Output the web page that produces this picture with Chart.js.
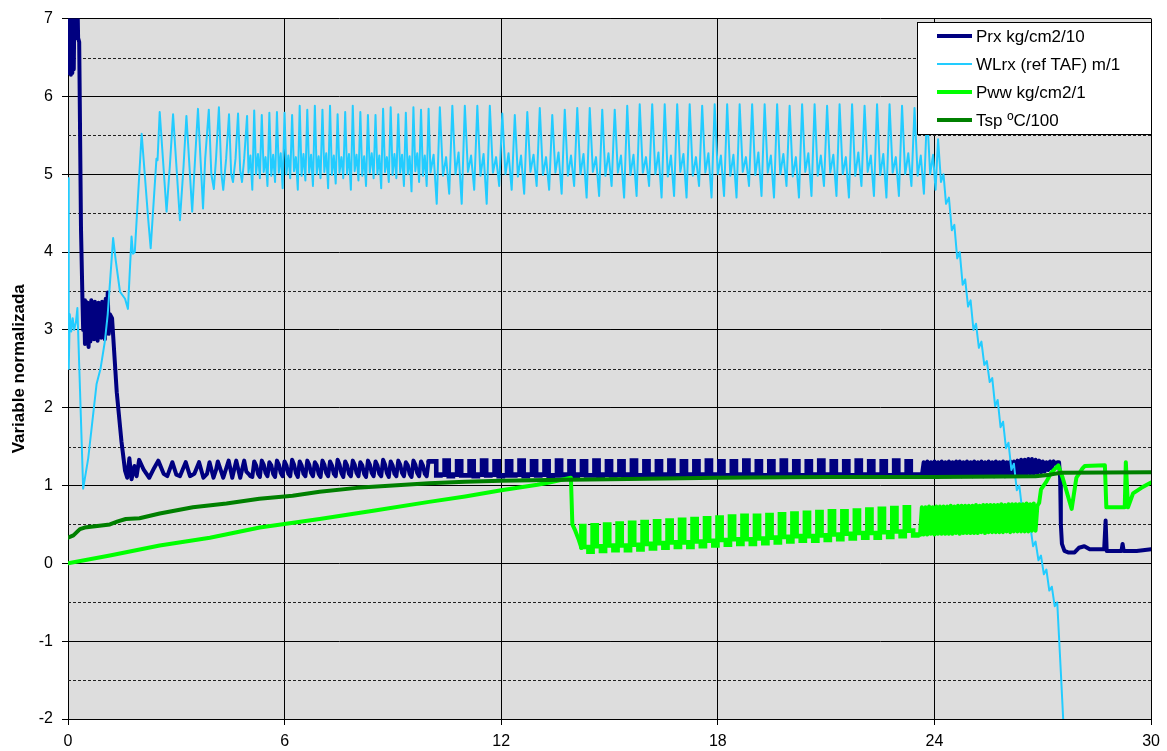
<!DOCTYPE html>
<html>
<head>
<meta charset="utf-8">
<script src="https://cdn.jsdelivr.net/npm/chart.js@4.4.0/dist/chart.umd.min.js"></script>
<style>
  html, body { margin: 0; padding: 0; background: #fff; }
  #wrap { width: 1167px; height: 751px; }
</style>
</head>
<body>
<div id="wrap"><canvas id="chart" width="1167" height="751"></canvas></div>
<script>
// x axis (time) and y axis (normalised value) ticks
const xTicks = [0, 6, 12, 18, 24, 30];
const yTicks = [-2, -1, 0, 1, 2, 3, 4, 5, 6, 7];
const yHalfLines = [-1.5, -0.5, 0.5, 1.5, 2.5, 3.5, 4.5, 5.5, 6.5];

const seriesLabels = ['Prx kg/cm2/10', 'WLrx (ref TAF) m/1', 'Pww kg/cm2/1', 'Tsp ºC/100'];
const seriesColors = ['#000080', '#22CCFF', '#00FF00', '#008000'];
const seriesWidths = [4, 2, 4, 4];

// ---- Prx ----
const prxSpikeX0 = 0, prxSpikeDx = 0.02;
const prxSpikeY = [6.6, 7.3, 6.3, 7.3, 6.28, 7.3, 6.3, 7.3, 6.35, 7.3, 6.75, 7.3, 6.78, 7.3, 6.75];
const prxDropXY = [[0.31, 6.7], [0.36, 4.3], [0.40, 3.4]];
const prxBandX0 = 0.42, prxBandDx = 0.025;
const prxBandY = [3.0, 3.38, 2.82, 3.36, 2.9, 3.35, 2.78, 3.3, 2.85, 3.38, 2.95, 3.33, 2.88, 3.36,
  2.92, 3.3, 2.86, 3.35, 2.95, 3.32, 2.9, 3.36, 2.95, 3.3, 2.88, 3.4, 2.95];
const prxSettleXY = [[1.10, 3.48], [1.13, 2.95], [1.16, 3.2], [1.22, 3.15], [1.35, 2.2], [1.48, 1.57],
  [1.58, 1.19], [1.64, 1.1], [1.7, 1.35], [1.76, 1.08], [1.84, 1.25], [1.9, 1.12], [1.97, 1.33],
  [2.1, 1.2], [2.25, 1.1], [2.38, 1.22], [2.5, 1.32], [2.65, 1.15], [2.75, 1.12], [2.89, 1.3],
  [3.0, 1.14], [3.1, 1.12], [3.26, 1.3], [3.38, 1.12], [3.5, 1.15], [3.63, 1.3], [3.75, 1.1],
  [3.85, 1.15], [3.92, 1.3], [4.03, 1.1], [4.1, 1.2], [4.15, 1.31], [4.3, 1.1], [4.45, 1.32],
  [4.55, 1.1], [4.66, 1.32], [4.77, 1.1], [4.88, 1.32], [4.94, 1.18]];
const midX0 = 5.0, midDx = 0.0525;
const prxMidY = [
  1.15, 1.12, 1.11, 1.31, 1.26, 1.15, 1.11, 1.32, 1.27, 1.16, 1.12, 1.30, 1.26, 1.15, 1.11, 1.32,
  1.27, 1.16, 1.12, 1.31, 1.26, 1.15, 1.12, 1.33, 1.27, 1.16, 1.11, 1.31, 1.26, 1.15, 1.12, 1.32,
  1.27, 1.16, 1.12, 1.30, 1.26, 1.15, 1.11, 1.32, 1.27, 1.16, 1.12, 1.31, 1.26, 1.15, 1.12, 1.33,
  1.27, 1.16, 1.11, 1.31, 1.26, 1.15, 1.12, 1.32, 1.27, 1.16, 1.12, 1.30, 1.26, 1.15, 1.11, 1.32,
  1.27, 1.16, 1.12, 1.31, 1.26, 1.15, 1.12, 1.33, 1.27, 1.16, 1.11, 1.31, 1.26, 1.15, 1.12, 1.32,
  1.27, 1.16, 1.12, 1.30, 1.26, 1.15, 1.11, 1.32, 1.27, 1.16, 1.12, 1.31, 1.26, 1.15, 1.12, 1.31];
// from x=10 the pump cycles are square: held values, three samples per cycle
const prxLateX0 = 10.2, cycleDx = 0.1153;
const prxLateY = [
  1.31, 1.13, 1.14, 1.32, 1.12, 1.14, 1.31, 1.13, 1.13, 1.31, 1.12, 1.14,
  1.32, 1.13, 1.14, 1.31, 1.12, 1.13, 1.31, 1.13, 1.14, 1.32, 1.12, 1.14,
  1.31, 1.13, 1.14, 1.31, 1.12, 1.13, 1.32, 1.13, 1.14, 1.31, 1.12, 1.14,
  1.31, 1.13, 1.13, 1.32, 1.12, 1.14, 1.31, 1.13, 1.14, 1.31, 1.12, 1.14,
  1.32, 1.13, 1.13, 1.31, 1.12, 1.14, 1.31, 1.13, 1.14, 1.32, 1.12, 1.13,
  1.31, 1.13, 1.14, 1.31, 1.12, 1.14, 1.32, 1.13, 1.14, 1.31, 1.12, 1.13,
  1.31, 1.13, 1.14, 1.32, 1.12, 1.14, 1.31, 1.13, 1.13, 1.31, 1.12, 1.14,
  1.32, 1.13, 1.14, 1.31, 1.12, 1.13, 1.31, 1.13, 1.14, 1.32, 1.12, 1.14,
  1.31, 1.13, 1.14, 1.31, 1.12, 1.13, 1.32, 1.13, 1.14, 1.31, 1.12, 1.14,
  1.31, 1.13, 1.13, 1.32, 1.12, 1.14, 1.31, 1.13, 1.14];
const prxDenseX0 = 23.65, denseDx = 0.05;
const prxDenseY = [
  1.13, 1.3, 1.13, 1.31, 1.12, 1.3, 1.13, 1.31, 1.13, 1.3, 1.12, 1.31, 1.13, 1.3, 1.13, 1.31,
  1.12, 1.3, 1.13, 1.31, 1.13, 1.31, 1.12, 1.3, 1.13, 1.31, 1.13, 1.3, 1.12, 1.31, 1.13, 1.3,
  1.13, 1.31, 1.12, 1.3, 1.13, 1.31, 1.13, 1.3, 1.12, 1.31, 1.13, 1.3, 1.13, 1.31, 1.12, 1.3,
  1.13, 1.31, 1.13, 1.31, 1.13, 1.32, 1.14, 1.33, 1.14, 1.33, 1.15, 1.34, 1.15, 1.34, 1.15, 1.33,
  1.16, 1.32, 1.17, 1.31, 1.18, 1.3, 1.2, 1.31, 1.22, 1.31, 1.28, 1.3];
const prxTailXY = [[27.45, 1.3], [27.48, 1.1], [27.5, 0.5], [27.53, 0.25], [27.6, 0.16], [27.7, 0.14],
  [27.88, 0.14], [28.0, 0.2], [28.15, 0.22], [28.3, 0.18], [28.7, 0.18], [28.74, 0.55], [28.77, 0.16],
  [29.18, 0.16], [29.21, 0.25], [29.24, 0.16], [29.6, 0.16], [30, 0.18]];

// ---- WLrx ----
const wlEarlyXY = [[0, 4.95], [0.02, 2.5], [0.05, 3.2], [0.09, 2.98], [0.13, 3.15], [0.17, 3.0],
  [0.22, 3.1], [0.26, 3.28], [0.42, 0.96], [0.56, 1.35], [0.79, 2.3], [0.9, 2.5], [1.02, 2.85],
  [1.1, 3.2], [1.25, 4.18], [1.32, 3.9], [1.44, 3.49], [1.58, 3.4], [1.66, 3.27], [1.76, 4.2],
  [1.8, 3.98], [1.85, 4.0], [2.04, 5.52], [2.22, 4.43], [2.29, 4.05], [2.45, 5.2], [2.48, 5.18],
  [2.54, 5.8], [2.73, 4.52], [2.82, 5.1], [2.91, 5.77], [3.1, 4.41], [3.2, 5.1], [3.28, 5.75],
  [3.44, 4.52], [3.52, 5.2], [3.6, 5.84], [3.74, 4.56], [3.8, 5.2], [3.9, 5.83], [3.97, 5.0],
  [4.04, 4.81], [4.1, 5.2], [4.18, 5.86], [4.25, 5.0], [4.3, 4.8], [4.38, 5.2], [4.46, 5.77],
  [4.52, 5.0], [4.57, 4.9], [4.64, 5.2], [4.71, 5.78], [4.77, 5.05], [4.82, 4.9], [4.88, 5.2],
  [4.96, 5.75]];
const wlMidY = [
  5.02, 5.24, 4.80, 5.82, 5.00, 5.26, 4.95, 5.76, 5.03, 5.22, 4.85, 5.79, 4.98, 5.25, 4.90, 5.80,
  5.02, 5.27, 4.82, 5.79, 5.00, 5.24, 4.95, 5.76, 5.04, 5.22, 4.80, 5.88, 4.98, 5.26, 4.92, 5.83,
  5.02, 5.25, 4.85, 5.88, 5.00, 5.23, 4.95, 5.83, 5.03, 5.27, 4.82, 5.88, 4.99, 5.24, 4.88, 5.77,
  5.02, 5.22, 4.95, 5.80, 5.00, 5.26, 4.80, 5.88, 5.04, 5.25, 4.92, 5.80, 4.98, 5.23, 4.85, 5.76,
  5.02, 5.27, 4.95, 5.76, 5.00, 5.24, 4.82, 5.84, 5.03, 5.22, 4.90, 5.86, 4.99, 5.26, 4.95, 5.77,
  5.02, 5.25, 4.85, 5.79, 5.00, 5.23, 4.78, 5.86, 5.04, 5.27, 4.90, 5.83, 4.98, 5.24, 4.85, 5.84];
const wlLateX0 = 10.04, wlLateDx = 0.0865;
const wlLateY = [
  5.02, 5.25, 4.62, 5.86, 4.98, 5.22, 4.75, 5.88, 5.00, 5.28, 4.62, 5.88, 5.03, 5.24, 4.80, 5.88,
  4.98, 5.26, 4.62, 5.88, 5.02, 5.22, 4.85, 5.78, 5.00, 5.27, 4.80, 5.76, 4.97, 5.24, 4.75, 5.80,
  5.03, 5.25, 4.85, 5.85, 4.99, 5.22, 4.80, 5.76, 5.02, 5.28, 4.75, 5.83, 4.98, 5.24, 4.85, 5.85,
  5.00, 5.26, 4.70, 5.85, 5.03, 5.22, 4.72, 5.83, 4.98, 5.27, 4.85, 5.83, 5.02, 5.24, 4.70, 5.88,
  4.99, 5.25, 4.72, 5.90, 5.02, 5.22, 4.85, 5.90, 5.00, 5.28, 4.70, 5.90, 4.97, 5.24, 4.72, 5.90,
  5.03, 5.26, 4.70, 5.90, 4.98, 5.22, 4.85, 5.88, 5.02, 5.27, 4.70, 5.90, 5.00, 5.24, 4.72, 5.90,
  4.98, 5.25, 4.70, 5.90, 5.03, 5.22, 4.85, 5.90, 4.99, 5.28, 4.72, 5.90, 5.02, 5.24, 4.70, 5.90,
  5.00, 5.26, 4.85, 5.88, 4.97, 5.22, 4.70, 5.90, 5.03, 5.27, 4.72, 5.90, 4.98, 5.24, 4.85, 5.88,
  5.02, 5.25, 4.72, 5.90, 5.00, 5.22, 4.70, 5.90, 4.98, 5.28, 4.85, 5.88, 5.03, 5.24, 4.72, 5.90,
  4.99, 5.26, 4.70, 5.90, 5.02, 5.22, 4.72, 5.88, 5.00, 5.27, 4.85, 5.85, 4.98, 5.24, 4.75, 5.80];
const wlTailXY = [[23.88, 5.0], [23.96, 5.25], [24.03, 4.8], [24.1, 5.45], [24.18, 4.9], [24.25, 5.0],
  [24.32, 4.62], [24.4, 4.7], [24.48, 4.28], [24.55, 4.35], [24.63, 3.92], [24.7, 4.0], [24.78, 3.58],
  [24.85, 3.65], [24.93, 3.3], [25.0, 3.38], [25.08, 3.0], [25.15, 3.08], [25.23, 2.77], [25.3, 2.85],
  [25.38, 2.55], [25.45, 2.6], [25.53, 2.33], [25.6, 2.38], [25.68, 2.02], [25.75, 2.1], [25.83, 1.75],
  [25.9, 1.82], [25.98, 1.48], [26.05, 1.55], [26.13, 1.2], [26.2, 1.28], [26.28, 0.94], [26.35, 1.0],
  [26.43, 0.68], [26.5, 0.75], [26.58, 0.42], [26.65, 0.5], [26.73, 0.22], [26.8, 0.28], [26.88, 0.04],
  [26.95, 0.1], [27.03, -0.14], [27.1, -0.08], [27.18, -0.35], [27.25, -0.3], [27.33, -0.55],
  [27.4, -0.5], [27.45, -0.95], [27.5, -1.4], [27.57, -2.05]];

// ---- Pww ----
const pwwEarlyXY = [[0, 0.0], [1.16, 0.1], [2.54, 0.23], [3.93, 0.33], [5.31, 0.46], [6.97, 0.57],
  [8.5, 0.68], [10, 0.79], [11, 0.86], [12, 0.94], [13, 1.01], [13.33, 1.04], [13.93, 1.1],
  [13.97, 0.5], [14.05, 0.42], [14.15, 0.3], [14.22, 0.2]];
const pwwLateX0 = 14.3;
const pwwLateY = [
  0.48, 0.21, 0.15, 0.49, 0.22, 0.16, 0.50, 0.23, 0.17, 0.51, 0.23, 0.17,
  0.52, 0.24, 0.18, 0.53, 0.25, 0.19, 0.54, 0.26, 0.20, 0.55, 0.27, 0.21,
  0.56, 0.27, 0.21, 0.57, 0.28, 0.22, 0.58, 0.29, 0.23, 0.59, 0.30, 0.24,
  0.60, 0.31, 0.25, 0.61, 0.31, 0.25, 0.61, 0.32, 0.26, 0.62, 0.33, 0.27,
  0.63, 0.34, 0.28, 0.64, 0.35, 0.29, 0.65, 0.35, 0.29, 0.66, 0.36, 0.30,
  0.67, 0.37, 0.31, 0.67, 0.38, 0.32, 0.68, 0.39, 0.33, 0.69, 0.39, 0.33,
  0.70, 0.40, 0.34, 0.71, 0.41, 0.35, 0.72, 0.42, 0.36];
const pwwDenseX0 = 23.6;
const pwwDenseY = [
  0.37, 0.72, 0.37, 0.72, 0.37, 0.73, 0.38, 0.72, 0.37, 0.73, 0.38, 0.73, 0.38, 0.73, 0.38, 0.73,
  0.38, 0.74, 0.38, 0.73, 0.39, 0.74, 0.38, 0.74, 0.39, 0.74, 0.39, 0.74, 0.39, 0.74, 0.39, 0.75,
  0.39, 0.74, 0.40, 0.75, 0.39, 0.75, 0.40, 0.75, 0.40, 0.75, 0.40, 0.75, 0.40, 0.76, 0.40, 0.75,
  0.41, 0.76, 0.40, 0.76, 0.41, 0.76, 0.41, 0.76, 0.41, 0.76, 0.41, 0.77, 0.41, 0.76, 0.42, 0.77,
  0.42, 0.74];
const pwwTailXY = [[26.9, 0.78], [26.95, 0.95], [27.1, 1.05], [27.24, 1.17], [27.43, 1.26], [27.55, 1.1],
  [27.8, 0.7], [27.93, 1.1], [28.1, 1.22], [28.16, 1.25], [28.72, 1.26], [28.76, 0.72], [29.27, 0.72],
  [29.3, 1.3], [29.36, 0.72], [29.5, 0.9], [29.73, 0.97], [30, 1.04]];

// ---- Tsp ----
const tspXY = [[0, 0.33], [0.15, 0.36], [0.33, 0.44], [0.46, 0.46], [1.16, 0.5], [1.38, 0.54],
  [1.6, 0.57], [1.98, 0.58], [2.54, 0.64], [3.46, 0.72], [4.39, 0.77], [5.3, 0.83], [6.22, 0.87],
  [6.97, 0.92], [8, 0.97], [9, 1.0], [10, 1.03], [11, 1.05], [12, 1.06], [13.3, 1.07], [15, 1.08],
  [18, 1.1], [21, 1.11], [24, 1.11], [26.8, 1.12], [27.2, 1.14], [27.5, 1.165], [30, 1.17]];

function fromPairs(arr) {
  return arr.map(p => ({ x: p[0], y: p[1] }));
}
function fromRun(x0, dx, ys) {
  return ys.map((y, i) => ({ x: +(x0 + i * dx).toFixed(4), y: y }));
}
const lineBreak = x => ({ x: x, y: null });

const prxMid = fromRun(midX0, midDx, prxMidY);
const prxDense = fromRun(prxDenseX0, denseDx, prxDenseY);
const prxData = [].concat(
  fromRun(prxSpikeX0, prxSpikeDx, prxSpikeY), fromPairs(prxDropXY),
  fromRun(prxBandX0, prxBandDx, prxBandY), fromPairs(prxSettleXY),
  prxMid, [lineBreak(10.1)], prxDense, fromPairs(prxTailXY));
const prxHeldData = [].concat([prxMid[prxMid.length - 1]],
  fromRun(prxLateX0, cycleDx, prxLateY), [prxDense[0]]);

const wlData = [].concat(
  fromPairs(wlEarlyXY), fromRun(midX0, midDx, wlMidY),
  fromRun(wlLateX0, wlLateDx, wlLateY), fromPairs(wlTailXY));

const pwwEarly = fromPairs(pwwEarlyXY);
const pwwDense = fromRun(pwwDenseX0, denseDx, pwwDenseY);
const pwwData = [].concat(pwwEarly, [lineBreak(14.26)], pwwDense, fromPairs(pwwTailXY));
const pwwHeldData = [].concat([pwwEarly[pwwEarly.length - 1]],
  fromRun(pwwLateX0, cycleDx, pwwLateY), [pwwDense[0]]);

const tspData = fromPairs(tspXY);

const FONT = "'Liberation Sans', Arial, sans-serif";

function lineSet(i, data, stepped) {
  return {
    label: seriesLabels[i],
    data: data,
    borderColor: seriesColors[i],
    backgroundColor: seriesColors[i],
    // the held square-wave parts need a touch more width to close the teeth
    borderWidth: stepped ? 4.6 : seriesWidths[i],
    borderJoinStyle: stepped ? 'miter' : 'round',
    borderCapStyle: 'round',
    stepped: stepped ? 'after' : false,
    pointRadius: 0,
    tension: 0,
    fill: false,
    spanGaps: false,
    clip: 0,
    order: 4 - i
  };
}

// gray plot background
const plotBg = {
  id: 'plotBg',
  beforeDraw(chart) {
    const a = chart.chartArea, ctx = chart.ctx;
    ctx.save();
    ctx.fillStyle = '#DDDDDD';
    ctx.fillRect(a.left, a.top, a.right - a.left, a.bottom - a.top);
    ctx.restore();
  }
};

// dashed half-unit lines
const halfLines = {
  id: 'halfLines',
  beforeDatasetsDraw(chart) {
    const a = chart.chartArea, ctx = chart.ctx, y = chart.scales.y;
    ctx.save();
    ctx.strokeStyle = '#222';
    ctx.lineWidth = 1;
    ctx.setLineDash([3, 2]);
    yHalfLines.forEach(v => {
      const py = Math.round(y.getPixelForValue(v)) + 0.5;
      ctx.beginPath();
      ctx.moveTo(a.left, py);
      ctx.lineTo(a.right, py);
      ctx.stroke();
    });
    ctx.restore();
  }
};

// boxed legend in the top right corner
const boxLegend = {
  id: 'boxLegend',
  afterDraw(chart) {
    const ctx = chart.ctx;
    const bx = 917, by = 22, bw = 234, bh = 112;
    ctx.save();
    ctx.fillStyle = '#fff';
    ctx.fillRect(bx, by, bw, bh);
    ctx.strokeStyle = '#000';
    ctx.lineWidth = 1;
    ctx.strokeRect(bx + 0.5, by + 0.5, bw, bh);
    ctx.font = '17px ' + FONT;
    ctx.textBaseline = 'middle';
    seriesLabels.forEach((label, i) => {
      const ly = by + 14 + i * 28;
      ctx.strokeStyle = seriesColors[i];
      ctx.lineWidth = i === 1 ? 2 : 4;
      ctx.beginPath();
      ctx.moveTo(937, ly);
      ctx.lineTo(972, ly);
      ctx.stroke();
      ctx.fillStyle = '#000';
      ctx.fillText(label, 976, ly + 1);
    });
    ctx.restore();
  }
};

new Chart(document.getElementById('chart'), {
  type: 'line',
  data: {
    datasets: [
      lineSet(0, prxData, false),
      lineSet(0, prxHeldData, true),
      lineSet(1, wlData, false),
      lineSet(2, pwwData, false),
      lineSet(2, pwwHeldData, true),
      lineSet(3, tspData, false)
    ]
  },
  options: {
    responsive: false,
    animation: false,
    devicePixelRatio: 1,
    layout: { padding: { top: 16, right: 14, left: 0, bottom: 0 } },
    plugins: {
      legend: { display: false },
      tooltip: { enabled: false }
    },
    scales: {
      x: {
        type: 'linear',
        min: 0,
        max: 30,
        afterBuildTicks(scale) { scale.ticks = xTicks.map(v => ({ value: v })); },
        afterFit(scale) { scale.height = 32; },
        ticks: { color: '#000', font: { family: FONT, size: 16 }, padding: 7, maxRotation: 0 },
        grid: { color: '#000', lineWidth: 1, tickLength: 6, tickColor: '#000' },
        border: { color: '#000', width: 1 }
      },
      y: {
        type: 'linear',
        min: -2,
        max: 7,
        afterBuildTicks(scale) { scale.ticks = yTicks.map(v => ({ value: v })); },
        afterFit(scale) { scale.width = 68; },
        ticks: { color: '#000', font: { family: FONT, size: 16 }, padding: 9 },
        grid: { color: '#000', lineWidth: 1, tickLength: 6, tickColor: '#000' },
        border: { color: '#000', width: 1 },
        title: {
          display: true,
          text: 'Variable normalizada',
          color: '#000',
          font: { family: FONT, size: 17, weight: 'bold' },
          padding: { top: 9, bottom: 0 }
        }
      }
    }
  },
  plugins: [plotBg, halfLines, boxLegend]
});
</script>
</body>
</html>
